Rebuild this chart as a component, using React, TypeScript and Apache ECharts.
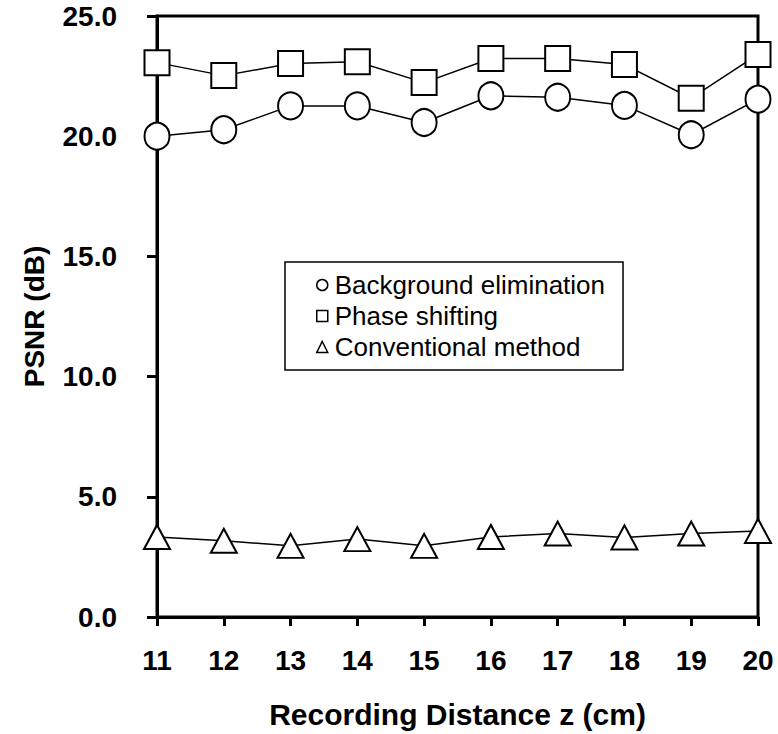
import React, { useEffect, useRef } from "react";
import * as echarts from "echarts";

const distances = [11, 12, 13, 14, 15, 16, 17, 18, 19, 20];
const backgroundElimination = [20.0, 20.27, 21.26, 21.26, 20.57, 21.68, 21.62, 21.28, 20.06, 21.54];
const phaseShifting = [23.06, 22.52, 23.02, 23.1, 22.23, 23.23, 23.23, 22.98, 21.58, 23.4];
const conventionalMethod = [3.33, 3.17, 2.96, 3.24, 2.96, 3.33, 3.47, 3.31, 3.47, 3.58];
const seriesNames = ["Background elimination", "Phase shifting", "Conventional method"];

const FONT = "'Liberation Sans', Arial, sans-serif";

export default function App() {
  const ref = useRef<HTMLDivElement>(null);
  useEffect(() => {
    if (!ref.current) return;
    const chart = echarts.init(ref.current, null, { renderer: "svg" });
    const pair = (vals: number[]) => distances.map((d, i) => [d, vals[i]]);
    const mk = (name: string, vals: number[], symbol: string, size: any) => ({
      name,
      type: "line",
      data: pair(vals),
      symbol,
      symbolSize: size,
      showAllSymbol: true,
      lineStyle: { color: "#000", width: 1.5 },
      itemStyle: { color: "#fff", borderColor: "#000", borderWidth: 2, opacity: 1 },
      z: 3,
    });
    chart.setOption({
      animation: false,
      backgroundColor: "#fff",
      grid: {
        left: 157,
        right: 20,
        top: 16,
        bottom: 116,
        show: true,
        borderColor: "#000",
        borderWidth: 3,
        backgroundColor: "transparent",
      },
      legend: {
        show: true,
        orient: "vertical",
        left: 285,
        top: 262,
        data: seriesNames.map((n, i) => ({
          name: n,
          icon: ["circle", "rect", "triangle"][i],
          itemStyle: { color: "#fff", borderColor: "#000", borderWidth: 1.5 },
        })),
        itemWidth: 11,
        itemHeight: 11,
        itemGap: 5,
        padding: [10, 18, 10, 31],
        borderColor: "#000",
        borderWidth: 1.5,
        backgroundColor: "#fff",
        textStyle: { fontFamily: FONT, fontSize: 26, color: "#000", padding: [0, 0, 0, 2] },
        selectedMode: false,
      },
      xAxis: {
        type: "value",
        min: 11,
        max: 20,
        interval: 1,
        name: "Recording Distance z (cm)",
        nameLocation: "middle",
        nameGap: 82,
        nameTextStyle: { fontFamily: FONT, fontSize: 30, fontWeight: "bold", color: "#000" },
        axisLine: { lineStyle: { color: "#000", width: 3 } },
        axisTick: { show: true, inside: false, length: 9, lineStyle: { color: "#000", width: 3 } },
        axisLabel: { fontFamily: FONT, fontSize: 28, fontWeight: "bold", color: "#000", margin: 29 },
        splitLine: { show: false },
      },
      yAxis: {
        type: "value",
        min: 0,
        max: 25,
        interval: 5,
        name: "PSNR (dB)",
        nameLocation: "middle",
        nameGap: 109,
        nameTextStyle: { fontFamily: FONT, fontSize: 28, fontWeight: "bold", color: "#000" },
        axisLine: { lineStyle: { color: "#000", width: 3 } },
        axisTick: { show: true, inside: false, length: 10, lineStyle: { color: "#000", width: 3 } },
        axisLabel: {
          fontFamily: FONT,
          fontSize: 28,
          fontWeight: "bold",
          color: "#000",
          margin: 40,
          formatter: (v: number) => v.toFixed(1),
        },
        splitLine: { show: false },
      },
      series: [
        mk(seriesNames[0], backgroundElimination, "circle", [25, 27]),
        mk(seriesNames[1], phaseShifting, "rect", [25, 25]),
        mk(seriesNames[2], conventionalMethod, "triangle", [26, 24]),
      ],
    });
    return () => chart.dispose();
  }, []);
  return <div ref={ref} style={{ width: 778, height: 734, position: "absolute", left: 0, top: 0 }} />;
}
